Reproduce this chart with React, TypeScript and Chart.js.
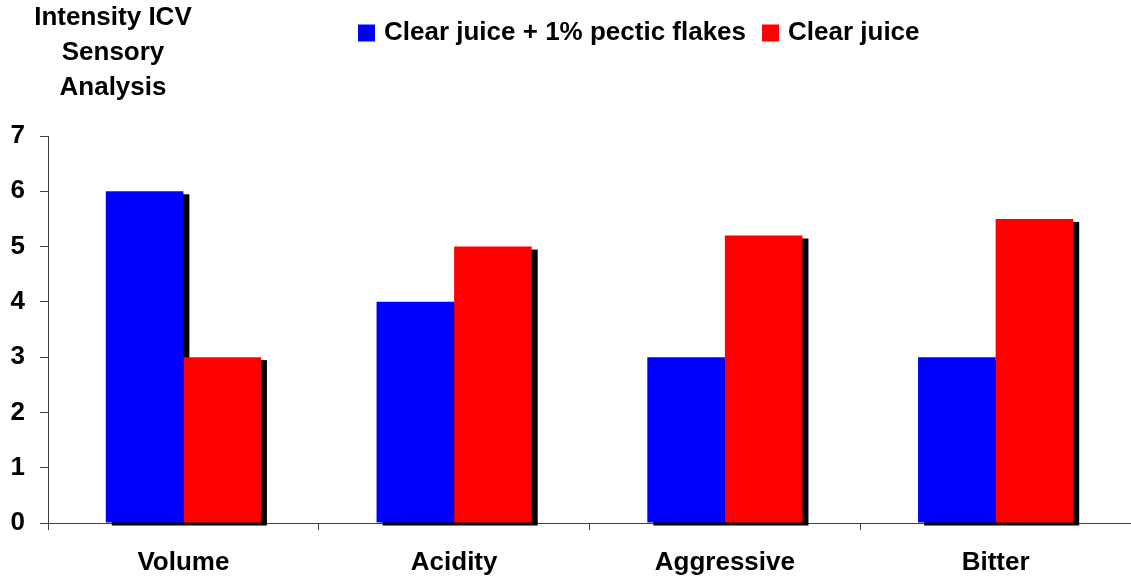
import React, { useEffect, useRef } from "react";
import { Chart, registerables } from "chart.js";

Chart.register(...registerables);

const categories = ["Volume", "Acidity", "Aggressive", "Bitter"];
const seriesNames = ["Clear juice + 1% pectic flakes", "Clear juice"];
const pecticFlakes = [6, 4, 3, 3];
const clearJuice = [3, 5, 5.2, 5.5];
const titleLines = ["Intensity ICV", "Sensory", "Analysis"];
const yMin = 0;
const yMax = 7;
const yStep = 1;

const FONT_FAMILY = "'Liberation Sans', Arial, Helvetica, sans-serif";
const AXIS_COLOR = "#404040";

const shadowPlugin = {
  id: "barShadow",
  beforeDatasetsDraw(chart: any) {
    const ctx = chart.ctx;
    ctx.save();
    ctx.fillStyle = "#000000";
    chart.data.datasets.forEach((_ds: any, i: number) => {
      const meta = chart.getDatasetMeta(i);
      meta.data.forEach((bar: any) => {
        const p = bar.getProps(["x", "y", "base", "width"], true);
        const left = p.x - p.width / 2;
        ctx.fillRect(left + 6, p.y + 3, p.width, p.base - p.y);
      });
    });
    ctx.restore();
  },
};

const headerPlugin = {
  id: "header",
  afterDraw(chart: any) {
    const ctx = chart.ctx;
    ctx.save();
    ctx.fillStyle = "#000000";
    ctx.font = `bold 26px ${FONT_FAMILY}`;
    ctx.textBaseline = "middle";
    ctx.textAlign = "center";
    titleLines.forEach((line, i) => {
      ctx.fillText(line, 113, 18 + i * 35);
    });
    // legend
    ctx.textAlign = "left";
    const ly = 33;
    let x = 358;
    chart.data.datasets.forEach((ds: any) => {
      ctx.fillStyle = ds.backgroundColor;
      ctx.fillRect(x, ly - 8.5, 17, 17);
      ctx.fillStyle = "#000000";
      ctx.fillText(ds.label, x + 26, ly);
      x += 26 + ctx.measureText(ds.label).width + 16;
    });
    ctx.restore();
  },
};

export default function App() {
  const canvasRef = useRef<HTMLCanvasElement | null>(null);

  useEffect(() => {
    document.body.style.margin = "0";
    const canvas = canvasRef.current;
    if (!canvas) return;
    const chart = new Chart(canvas, {
      type: "bar",
      data: {
        labels: categories,
        datasets: [
          {
            label: seriesNames[0],
            data: pecticFlakes,
            backgroundColor: "#0000FF",
            borderWidth: 0,
          },
          {
            label: seriesNames[1],
            data: clearJuice,
            backgroundColor: "#FF0000",
            borderWidth: 0,
          },
        ],
      },
      options: {
        animation: false,
        responsive: false,
        maintainAspectRatio: false,
        layout: { padding: { top: 136, left: 0, right: 0, bottom: 1 } },
        datasets: {
          bar: { categoryPercentage: 0.573, barPercentage: 1.0 },
        },
        plugins: {
          legend: { display: false },
          title: { display: false },
          tooltip: { enabled: false },
        },
        scales: {
          x: {
            afterFit: (scale: any) => {
              scale.height = 56;
            },
            grid: {
              display: true,
              drawOnChartArea: false,
              drawTicks: true,
              tickLength: 7,
              color: AXIS_COLOR,
              offset: true,
            },
            border: { display: true, color: AXIS_COLOR, width: 1 },
            ticks: {
              color: "#000000",
              padding: 17,
              font: { family: FONT_FAMILY, size: 26, weight: "bold" },
              maxRotation: 0,
            },
          },
          y: {
            min: yMin,
            max: yMax,
            afterFit: (scale: any) => {
              scale.width = 48;
            },
            grid: {
              display: true,
              drawOnChartArea: false,
              drawTicks: true,
              tickLength: 8,
              color: AXIS_COLOR,
            },
            border: { display: true, color: AXIS_COLOR, width: 1 },
            ticks: {
              stepSize: yStep,
              color: "#000000",
              padding: 15,
              font: { family: FONT_FAMILY, size: 26, weight: "bold" },
            },
          },
        },
      },
      plugins: [shadowPlugin, headerPlugin],
    });
    return () => chart.destroy();
  }, []);

  return (
    <div style={{ width: 1131, height: 580, overflow: "hidden" }}>
      <canvas ref={canvasRef} width={1131} height={580} style={{ display: "block" }} />
    </div>
  );
}
